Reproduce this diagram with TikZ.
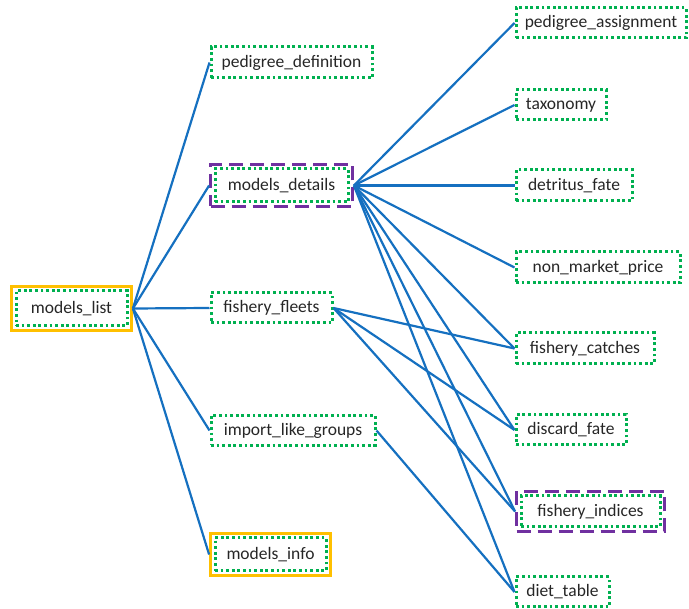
\documentclass[tikz,border=0pt]{standalone}
\usepackage{fontspec}
\setmainfont{Carlito}
\usetikzlibrary{fit}
\definecolor{linkblue}{RGB}{21,112,192}
\definecolor{boxgreen}{RGB}{0,176,80}
\definecolor{hiorange}{RGB}{255,192,0}
\definecolor{hipurple}{RGB}{112,48,160}
\definecolor{labelgray}{RGB}{38,38,38}
\tikzset{
  table/.style={draw=boxgreen, line width=3pt, dash pattern=on 2.8pt off 2.8pt,
    rectangle, inner sep=0pt, text=labelgray,
    font=\fontsize{17.5}{20}\selectfont},
  rootbox/.style={draw=hiorange, line width=2.8pt, inner sep=3pt, rectangle},
  groupbox/.style={draw=hipurple, line width=2.8pt, dash pattern=on 14pt off 7pt,
    inner sep=3pt, rectangle},
  link/.style={draw=linkblue, line width=2.2pt},
}
\begin{document}
\begin{tikzpicture}[x=1pt,y=-1pt]
\useasboundingbox (0,0) rectangle (689,609);

% left column
\node[table, minimum width=111pt, minimum height=35pt] (ml) at (71.5,308.5) {models\_list};
\node[rootbox, fit=(ml)] (mlbox) {};

% middle column
\node[table, minimum width=161pt, minimum height=31pt] (pd) at (291.5,62.5) {pedigree\_definition};
\node[table, minimum width=133pt, minimum height=33pt] (md) at (281.5,185.5) {models\_details};
\node[groupbox, fit=(md)] (mdbox) {};
\node[table, minimum width=121pt, minimum height=30pt] (ff) at (271.5,308) {fishery\_fleets};
\node[table, minimum width=164pt, minimum height=30pt] (ilg) at (293,430.5) {import\_like\_groups};
\node[table, minimum width=111pt, minimum height=33pt] (mi) at (270.5,554.5) {models\_info};
\node[rootbox, fit=(mi)] (mibox) {};

% right column
\node[table, minimum width=170pt, minimum height=30pt] (pa) at (601,23) {pedigree\_assignment};
\node[table, minimum width=90pt, minimum height=30pt] (tx) at (561,105) {taxonomy};
\node[table, minimum width=116pt, minimum height=31pt] (df) at (574,185.5) {detritus\_fate};
\node[table, minimum width=164pt, minimum height=31pt] (nmp) at (598,267.5) {non\_market\_price};
\node[table, minimum width=138pt, minimum height=31pt] (fc) at (585,348.5) {fishery\_catches};
\node[table, minimum width=110pt, minimum height=30pt] (dfa) at (571,430) {discard\_fate};
\node[table, minimum width=139pt, minimum height=31pt] (fi) at (590.5,511.5) {fishery\_indices};
\node[groupbox, fit=(fi)] (fibox) {};
\node[table, minimum width=93pt, minimum height=30pt] (dt) at (562.5,592) {diet\_table};

% connectors from the root table
\draw[link] (mlbox.east) -- (pd.west);
\draw[link] (mlbox.east) -- (mdbox.west);
\draw[link] (mlbox.east) -- (ff.west);
\draw[link] (mlbox.east) -- (ilg.west);
\draw[link] (mlbox.east) -- (mibox.west);

% connectors from models_details
\foreach \t in {pa,tx,df,nmp,fc,dfa,dt}
  \draw[link] (mdbox.east) -- (\t.west);
\draw[link] (mdbox.east) -- (fibox.west);

% connectors from fishery_fleets
\draw[link] (ff.east) -- (fc.west);
\draw[link] (ff.east) -- (dfa.west);
\draw[link] (ff.east) -- (fibox.west);

% connector from import_like_groups
\draw[link] (ilg.east) -- (dt.west);
\end{tikzpicture}
\end{document}
